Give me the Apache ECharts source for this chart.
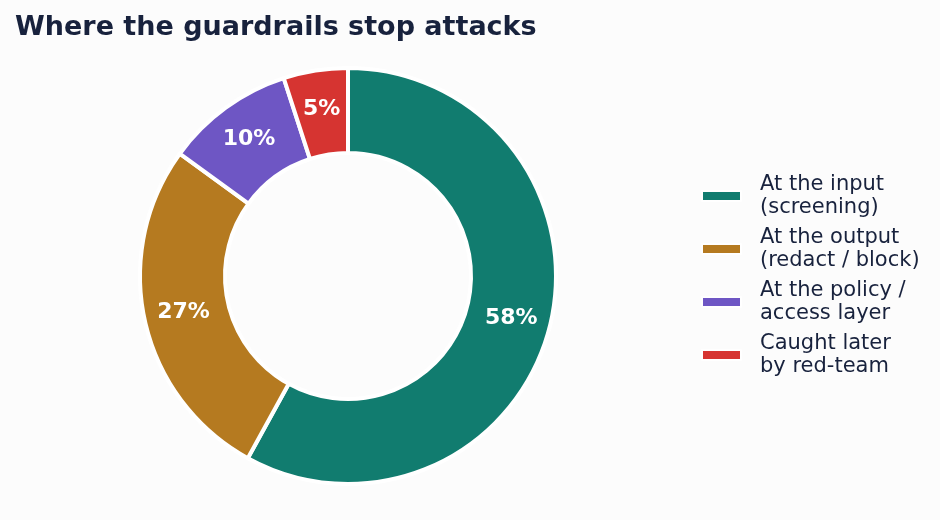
<!DOCTYPE html>
<html><head><meta charset="utf-8">
<script src="https://cdn.jsdelivr.net/npm/echarts@6/dist/echarts.min.js"></script>
<style>html,body{margin:0;padding:0;background:#fcfcfc;}#c{width:940px;height:520px;}</style>
</head><body><div id="c"></div>
<script>
const categories = ["At the input\n(screening)", "At the output\n(redact / block)", "At the policy /\naccess layer", "Caught later\nby red-team"];
const values = [58, 27, 10, 5];
const colors = ["#117c6f", "#b57a20", "#6e56c4", "#d63431"];
const FONT = "DejaVu Sans";
const chart = echarts.init(document.getElementById('c'));
chart.setOption({
  backgroundColor: '#fcfcfc',
  animation: false,
  title: {
    text: 'Where the guardrails stop attacks',
    left: 10, top: 9,
    textStyle: {fontFamily: FONT, fontSize: 27, fontWeight: 'bold', color: '#18223d'}
  },
  legend: {
    orient: 'vertical', left: 696, top: 168,
    icon: 'rect', itemWidth: 39, itemHeight: 10, itemGap: 7,
    textStyle: {fontFamily: FONT, fontSize: 21, color: '#18223d', lineHeight: 23, padding: [0,0,0,14]},
    data: categories
  },
  series: [{
    type: 'pie',
    center: [348, 276],
    radius: [123, 208],
    startAngle: 90,
    clockwise: true,
    itemStyle: {borderColor: '#ffffff', borderWidth: 4},
    label: {
      show: true, position: 'inside',
      formatter: p => p.value + '%',
      fontFamily: FONT, fontSize: 22, fontWeight: 'bold', color: '#ffffff'
    },
    labelLine: {show: false},
    data: categories.map((c, i) => ({name: c, value: values[i], itemStyle: {color: colors[i]}}))
  }]
});
</script></body></html>
